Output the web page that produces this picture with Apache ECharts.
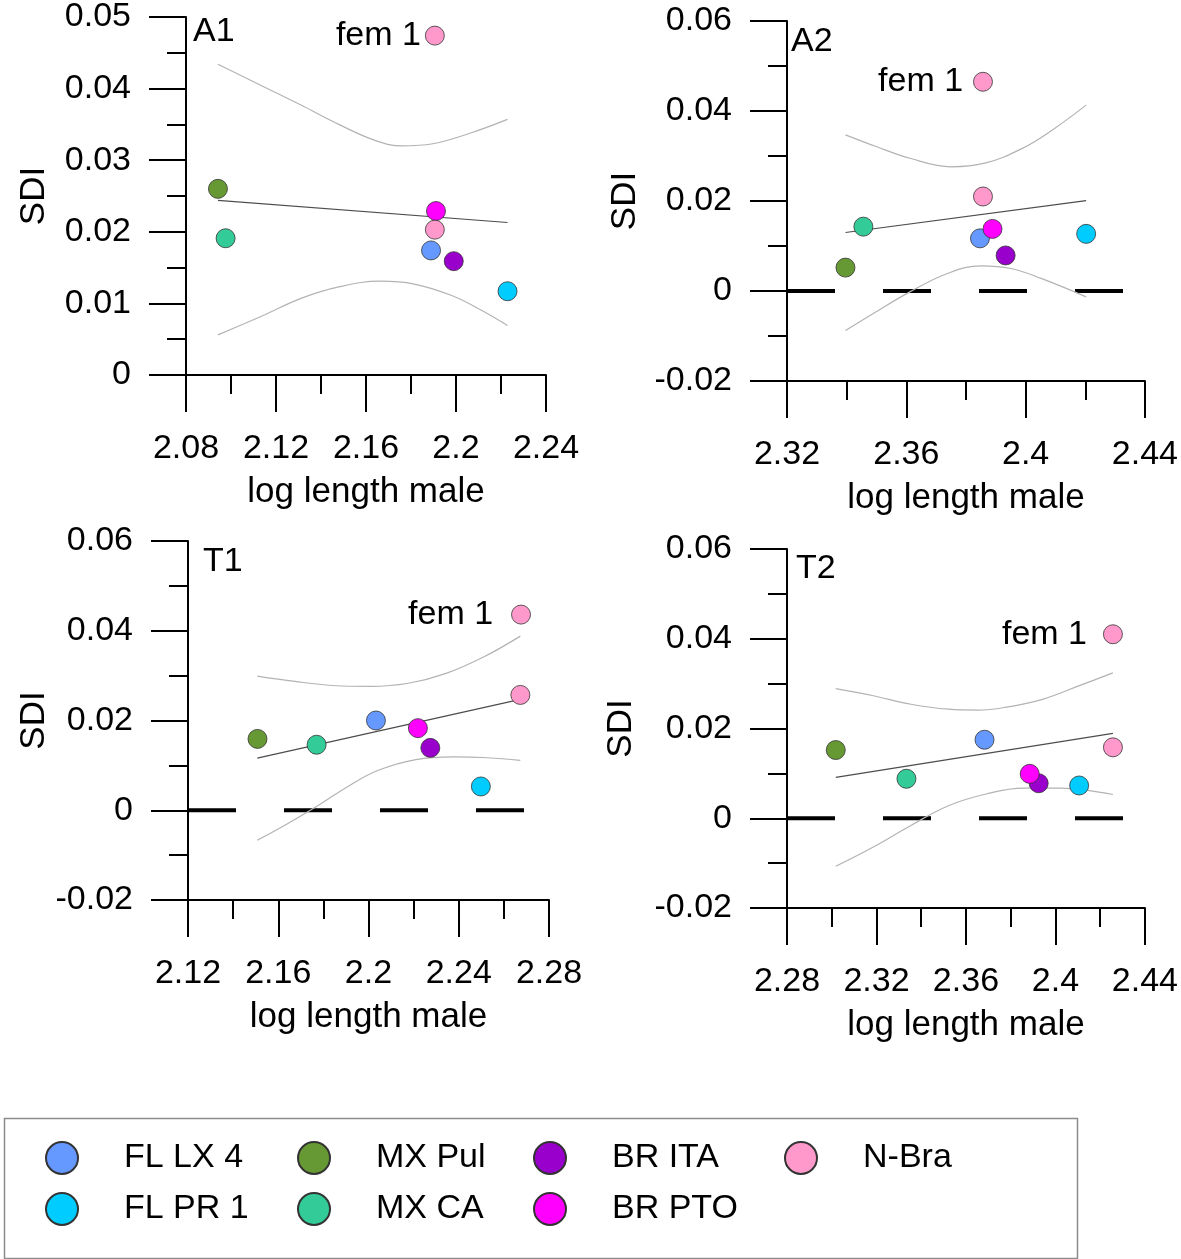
<!DOCTYPE html>
<html>
<head>
<meta charset="utf-8">
<script src="https://cdn.jsdelivr.net/npm/echarts@6/dist/echarts.min.js"></script>
<style>
html,body{margin:0;padding:0;background:#fff;}
#c{width:1181px;height:1259px;}
</style>
</head>
<body>
<div id="c"></div>
<script>
// ---------- data ----------
const groups = ['FL LX 4', 'FL PR 1', 'MX Pul', 'MX CA', 'BR ITA', 'BR PTO', 'N-Bra'];
const groupColors = ['#6699FF', '#00CCFF', '#669933', '#33CC99', '#9900CC', '#FF00FF', '#FF99CC'];
const panelNames = ['A1', 'A2', 'T1', 'T2'];
const femLabel = 'fem 1';

// axis ranges [min, max, interval]
const a1XRange = [2.08, 2.24, 0.04], a1YRange = [0, 0.05, 0.01];
const a2XRange = [2.32, 2.44, 0.04], a2YRange = [-0.02, 0.06, 0.02];
const t1XRange = [2.12, 2.28, 0.04], t1YRange = [-0.02, 0.06, 0.02];
const t2XRange = [2.28, 2.44, 0.04], t2YRange = [-0.02, 0.06, 0.02];

// A1 (values in group order)
const a1X = [2.1889, 2.2229, 2.0942, 2.0976, 2.1990, 2.1911, 2.1906];
const a1Y = [0.0174, 0.0117, 0.0260, 0.0191, 0.0159, 0.0229, 0.0203];
const a1Fem = [2.1906, 0.0474];
const a1Fit = [[2.0942, 0.0244], [2.2229, 0.0213]];
const a1Upper = [[2.0942,0.0434],[2.1143,0.0403],[2.1311,0.0377],[2.1479,0.0350],[2.1646,0.0327],[2.1760,0.0320],[2.1897,0.0323],[2.2065,0.0338],[2.2229,0.0357]];
const a1Lower = [[2.0942,0.0056],[2.1143,0.0083],[2.1311,0.0107],[2.1479,0.0123],[2.1663,0.0131],[2.1814,0.0127],[2.1981,0.0111],[2.2115,0.0090],[2.2229,0.0069]];
const a1Zero = [];

// A2
const a2X = [2.3847, 2.4203, 2.3396, 2.3456, 2.3933, 2.3889, 2.3857];
const a2Y = [0.0117, 0.0127, 0.0052, 0.0143, 0.0079, 0.0138, 0.0210];
const a2Fem = [2.3857, 0.0465];
const a2Fit = [[2.3396, 0.0130], [2.4203, 0.0201]];
const a2Upper = [[2.3396,0.0347],[2.3499,0.0321],[2.3612,0.0295],[2.3750,0.0276],[2.3863,0.0284],[2.3989,0.0317],[2.4090,0.0358],[2.4203,0.0413]];
const a2Lower = [[2.3396,-0.0088],[2.3499,-0.0046],[2.3612,-0.0002],[2.3738,0.0039],[2.3851,0.0056],[2.3951,0.0050],[2.4052,0.0028],[2.4203,-0.0013]];
const a2Zero = [[2.32, 0], [2.433, 0]];

// T1
const t1X = [2.2033, 2.2498, 2.1508, 2.1770, 2.2274, 2.2219, 2.2673];
const t1Y = [0.0200, 0.0053, 0.0159, 0.0146, 0.0139, 0.0183, 0.0257];
const t1Fem = [2.2676, 0.0436];
const t1Fit = [[2.1507, 0.0116], [2.2673, 0.0247]];
const t1Upper = [[2.1507,0.0299],[2.1674,0.0287],[2.1842,0.0278],[2.2009,0.0276],[2.2177,0.0283],[2.2344,0.0305],[2.2512,0.0342],[2.2673,0.0388]];
const t1Lower = [[2.1507,-0.0067],[2.1641,-0.0030],[2.1775,0.0010],[2.1909,0.0053],[2.2043,0.0089],[2.2210,0.0113],[2.2378,0.0119],[2.2529,0.0117],[2.2673,0.0111]];
const t1Zero = [[2.12, 0], [2.2713, 0]];

// T2
const t2X = [2.3683, 2.4106, 2.3018, 2.3334, 2.3925, 2.3885, 2.4257];
const t2Y = [0.0175, 0.0073, 0.0152, 0.0088, 0.0078, 0.0099, 0.0158];
const t2Fem = [2.4257, 0.0410];
const t2Fit = [[2.3018, 0.0091], [2.4257, 0.0189]];
const t2Upper = [[2.3018,0.0289],[2.3186,0.0273],[2.3354,0.0254],[2.3522,0.0243],[2.3656,0.0241],[2.3774,0.0247],[2.3942,0.0265],[2.4110,0.0296],[2.4257,0.0324]];
const t2Lower = [[2.3018,-0.0107],[2.3186,-0.0064],[2.3354,-0.0016],[2.3522,0.0028],[2.3690,0.0054],[2.3858,0.0067],[2.4026,0.0067],[2.4143,0.0062],[2.4257,0.0053]];
const t2Zero = [[2.28, 0], [2.431, 0]];

// ---------- layout / style ----------
const FONT = '"Liberation Sans", Arial, Helvetica, sans-serif';
const panels = [
  {xs:a1X, ys:a1Y, fem:a1Fem, fit:a1Fit, up:a1Upper, lo:a1Lower, zero:a1Zero, xr:a1XRange, yr:a1YRange,
   grid:{left:186, top:15, width:360, height:360}, yNameGap:134, femDist:4, title:{left:193, top:15}},
  {xs:a2X, ys:a2Y, fem:a2Fem, fit:a2Fit, up:a2Upper, lo:a2Lower, zero:a2Zero, xr:a2XRange, yr:a2YRange,
   grid:{left:787, top:21, width:361, height:360}, yNameGap:144, femDist:10, title:{left:791, top:25}},
  {xs:t1X, ys:t1Y, fem:t1Fem, fit:t1Fit, up:t1Upper, lo:t1Lower, zero:t1Zero, xr:t1XRange, yr:t1YRange,
   grid:{left:188, top:541, width:361, height:359}, yNameGap:136, femDist:18, title:{left:203, top:545}},
  {xs:t2X, ys:t2Y, fem:t2Fem, fit:t2Fit, up:t2Upper, lo:t2Lower, zero:t2Zero, xr:t2XRange, yr:t2YRange,
   grid:{left:787, top:549, width:360, height:359}, yNameGap:148, femDist:16, title:{left:796, top:552}}
];

function fmt(v) { return String(+(+v).toFixed(3)); }

const grid = [], xAxis = [], yAxis = [], series = [], title = [];
const axisLineStyle = {color:'#000', width:2};

panels.forEach((p, i) => {
  grid.push(Object.assign({}, p.grid));
  title.push({text: panelNames[i], left: p.title.left, top: p.title.top, padding: 0,
    textStyle:{fontFamily:FONT, fontSize:34, fontWeight:'normal', color:'#000'}});
  xAxis.push({
    type:'value', gridIndex:i, min:p.xr[0], max:p.xr[1], interval:p.xr[2],
    name:'log length male', nameLocation:'middle', nameGap:100,
    nameTextStyle:{fontFamily:FONT, fontSize:35, color:'#000'},
    axisLine:{show:true, onZero:false, lineStyle:axisLineStyle},
    axisTick:{show:true, inside:false, length:37, lineStyle:axisLineStyle},
    minorTick:{show:true, splitNumber:2, length:19, lineStyle:axisLineStyle},
    axisLabel:{fontFamily:FONT, fontSize:34, color:'#000', margin:57, formatter:fmt, showMinLabel:true, showMaxLabel:true},
    splitLine:{show:false}, minorSplitLine:{show:false}
  });
  yAxis.push({
    type:'value', gridIndex:i, min:p.yr[0], max:p.yr[1], interval:p.yr[2],
    name:'SDI', nameLocation:'middle', nameGap:p.yNameGap,
    nameTextStyle:{fontFamily:FONT, fontSize:35, color:'#000'},
    axisLine:{show:true, onZero:false, lineStyle:axisLineStyle},
    axisTick:{show:true, inside:false, length:37, lineStyle:axisLineStyle},
    minorTick:{show:true, splitNumber:2, length:19, lineStyle:axisLineStyle},
    axisLabel:{fontFamily:FONT, fontSize:34, color:'#000', margin:55, formatter:fmt, showMinLabel:true, showMaxLabel:true},
    splitLine:{show:false}, minorSplitLine:{show:false}
  });
  if (p.zero.length) {
    series.push({type:'line', xAxisIndex:i, yAxisIndex:i, data:p.zero, symbol:'none', silent:true, z:1,
      lineStyle:{color:'#000', width:4, type:[48,48], cap:'butt'}});
  }
  series.push({type:'line', xAxisIndex:i, yAxisIndex:i, data:p.up, symbol:'none', smooth:0.4, silent:true, z:2,
    lineStyle:{color:'#b3b3b3', width:1.2}});
  series.push({type:'line', xAxisIndex:i, yAxisIndex:i, data:p.lo, symbol:'none', smooth:0.4, silent:true, z:2,
    lineStyle:{color:'#b3b3b3', width:1.2}});
  series.push({type:'line', xAxisIndex:i, yAxisIndex:i, data:p.fit, symbol:'none', silent:true, z:2,
    lineStyle:{color:'#4d4d4d', width:1.2}});
  groups.forEach((g, k) => {
    series.push({type:'scatter', name:g, xAxisIndex:i, yAxisIndex:i, data:[[p.xs[k], p.ys[k]]],
      symbol:'circle', symbolSize:19, z:5,
      itemStyle:{color:groupColors[k], borderColor:'#333', borderWidth:0.8, opacity:1}});
  });
  series.push({type:'scatter', name:femLabel, xAxisIndex:i, yAxisIndex:i, data:[p.fem],
    symbol:'circle', symbolSize:19, z:5,
    itemStyle:{color:groupColors[6], borderColor:'#333', borderWidth:0.8, opacity:1},
    label:{show:true, position:'left', distance:p.femDist, formatter:femLabel,
      fontFamily:FONT, fontSize:34, color:'#000', opacity:1}});
});

const legendCols = [[groups[0], groups[1]], [groups[2], groups[3]], [groups[4], groups[5]], [groups[6]]];
const legendLefts = [45, 297, 533, 784];
const legend = legendCols.map((names, c) => ({
  data: names, orient:'vertical', left: legendLefts[c], top: 1141, padding: 0,
  itemWidth: 32, itemHeight: 32, itemGap: 17, icon: 'circle', selectedMode: false,
  textStyle:{fontFamily:FONT, fontSize:34, color:'#000', lineHeight:32, padding:[0,0,0,41]}
}));

const chart = echarts.init(document.getElementById('c'), null, {renderer:'canvas'});
chart.setOption({
  animation:false,
  backgroundColor:'#fff',
  title, grid, xAxis, yAxis, series, legend,
  graphic:[{type:'rect', left:2, top:1116, shape:{width:1073, height:140}, silent:true,
    style:{fill:'none', stroke:'#8c8c8c', lineWidth:1.5}}]
});
</script>
</body>
</html>
